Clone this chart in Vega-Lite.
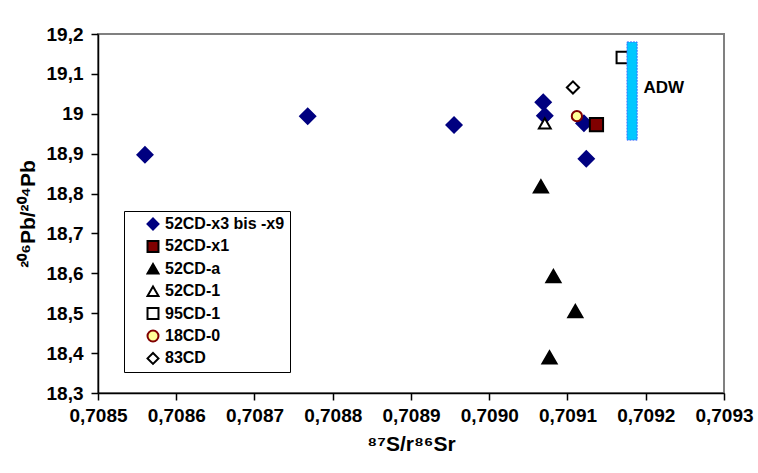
{
  "$schema": "https://vega.github.io/schema/vega-lite/v6.json",
  "width": 626,
  "height": 359,
  "autosize": "none",
  "padding": {"left": 98, "top": 34, "right": 34, "bottom": 80},
  "background": "white",
  "config": {
    "locale": {"number": {"decimal": ",", "thousands": ".", "grouping": [3], "currency": ["", " €"]}},
    "font": "Liberation Sans",
    "view": {"stroke": "#808080", "strokeWidth": 2},
    "axis": {
      "grid": false,
      "domainColor": "black", "domainWidth": 1.5,
      "tickColor": "black", "tickSize": 7, "tickWidth": 1.5,
      "labelFont": "Liberation Sans", "labelFontWeight": "bold", "labelFontSize": 19, "labelColor": "black",
      "labelFlush": false, "labelBound": false,
      "titleFont": "Liberation Sans", "titleFontWeight": "bold", "titleFontSize": 21, "titleColor": "black",
      "titlePadding": 8
    },
    "axisX": {"labelPadding": 6},
    "axisY": {"labelPadding": 8},
    "legend": {
      "strokeColor": "black", "fillColor": "white", "padding": 5,
      "labelFont": "Liberation Sans", "labelFontWeight": "bold", "labelFontSize": 16, "labelColor": "black",
      "labelLimit": 300,
      "symbolSize": 120, "symbolStrokeWidth": 2, "symbolOffset": 16,
      "clipHeight": 16, "rowPadding": 6.4, "labelOffset": 4
    }
  },
  "datasets": {
    "pts": [
      {"sr": 0.708560, "pb": 18.897, "series": "52CD-x3 bis -x9"},
      {"sr": 0.708768, "pb": 18.994, "series": "52CD-x3 bis -x9"},
      {"sr": 0.708955, "pb": 18.972, "series": "52CD-x3 bis -x9"},
      {"sr": 0.709069, "pb": 19.029, "series": "52CD-x3 bis -x9"},
      {"sr": 0.709071, "pb": 18.995, "series": "52CD-x3 bis -x9"},
      {"sr": 0.709121, "pb": 18.976, "series": "52CD-x3 bis -x9"},
      {"sr": 0.709124, "pb": 18.887, "series": "52CD-x3 bis -x9"},
      {"sr": 0.709137, "pb": 18.973, "series": "52CD-x1"},
      {"sr": 0.709066, "pb": 18.818, "series": "52CD-a"},
      {"sr": 0.709082, "pb": 18.593, "series": "52CD-a"},
      {"sr": 0.709110, "pb": 18.505, "series": "52CD-a"},
      {"sr": 0.709077, "pb": 18.389, "series": "52CD-a"},
      {"sr": 0.709071, "pb": 18.976, "series": "52CD-1"},
      {"sr": 0.709170, "pb": 19.141, "series": "95CD-1"},
      {"sr": 0.709112, "pb": 18.994, "series": "18CD-0"},
      {"sr": 0.709107, "pb": 19.066, "series": "83CD"}
    ],
    "adw": [
      {"x1": 0.709176, "x2": 0.709189, "y1": 18.934, "y2": 19.18, "label": "ADW", "tx": 0.709197, "ty": 19.065}
    ]
  },
  "layer": [
    {
      "data": {"name": "pts"},
      "mark": {"type": "point", "filled": true, "strokeWidth": 2, "opacity": 1},
      "encoding": {
        "x": {
          "field": "sr", "type": "quantitative",
          "scale": {"domain": [0.7085, 0.7093], "nice": false, "zero": false},
          "axis": {
            "values": [0.7085, 0.7086, 0.7087, 0.7088, 0.7089, 0.709, 0.7091, 0.7092, 0.7093],
            "format": ".4f", "title": "⁸⁷S/r⁸⁶Sr", "labelOverlap": false
          }
        },
        "y": {
          "field": "pb", "type": "quantitative",
          "scale": {"domain": [18.3, 19.2], "nice": false, "zero": false},
          "axis": {
            "values": [18.3, 18.4, 18.5, 18.6, 18.7, 18.8, 18.9, 19.0, 19.1, 19.2],
            "format": ".1~f", "title": "²⁰⁶Pb/²⁰⁴Pb", "labelOverlap": false
          }
        },
        "shape": {
          "field": "series", "type": "nominal",
          "scale": {
            "domain": ["52CD-x3 bis -x9", "52CD-x1", "52CD-a", "52CD-1", "95CD-1", "18CD-0", "83CD"],
            "range": ["diamond", "square", "triangle-up", "triangle-up", "square", "circle", "diamond"]
          },
          "legend": {"title": null, "orient": "none", "legendX": 26, "legendY": 177,
            "labelExpr": "datum.label + '\u00a0\u00a0\u00a0\u00a0'"}
        },
        "fill": {
          "field": "series", "type": "nominal",
          "scale": {
            "domain": ["52CD-x3 bis -x9", "52CD-x1", "52CD-a", "52CD-1", "95CD-1", "18CD-0", "83CD"],
            "range": ["#000080", "#800000", "#000000", "#ffffff", "#ffffff", "#ffff99", "#ffffff"]
          }
        },
        "stroke": {
          "field": "series", "type": "nominal",
          "scale": {
            "domain": ["52CD-x3 bis -x9", "52CD-x1", "52CD-a", "52CD-1", "95CD-1", "18CD-0", "83CD"],
            "range": ["#000080", "#000000", "#000000", "#000000", "#000000", "#800000", "#000000"]
          }
        },
        "size": {
          "field": "series", "type": "nominal",
          "scale": {
            "type": "ordinal",
            "domain": ["83CD", "18CD-0", "95CD-1", "52CD-1", "52CD-a", "52CD-x1", "52CD-x3 bis -x9"],
            "range": [150, 105, 130, 140, 200, 175, 230]
          },
          "legend": null
        }
      }
    },
    {
      "data": {"name": "adw"},
      "mark": {"type": "rect", "fill": "#00c8ff", "stroke": "#3a6cff", "strokeWidth": 1, "strokeDash": [2, 1]},
      "encoding": {
        "x": {"field": "x1", "type": "quantitative",
          "axis": {
            "values": [0.7085, 0.7086, 0.7087, 0.7088, 0.7089, 0.709, 0.7091, 0.7092, 0.7093],
            "format": ".4f", "title": "⁸⁷S/r⁸⁶Sr", "labelOverlap": false
          }},
        "x2": {"field": "x2"},
        "y": {"field": "y1", "type": "quantitative",
          "axis": {
            "values": [18.3, 18.4, 18.5, 18.6, 18.7, 18.8, 18.9, 19.0, 19.1, 19.2],
            "format": ".1~f", "title": "²⁰⁶Pb/²⁰⁴Pb", "labelOverlap": false
          }},
        "y2": {"field": "y2"}
      }
    },
    {
      "data": {"name": "adw"},
      "mark": {"type": "text", "align": "left", "baseline": "middle", "font": "Liberation Sans", "fontWeight": "bold", "fontSize": 17, "color": "black"},
      "encoding": {
        "x": {"field": "tx", "type": "quantitative",
          "axis": {
            "values": [0.7085, 0.7086, 0.7087, 0.7088, 0.7089, 0.709, 0.7091, 0.7092, 0.7093],
            "format": ".4f", "title": "⁸⁷S/r⁸⁶Sr", "labelOverlap": false
          }},
        "y": {"field": "ty", "type": "quantitative",
          "axis": {
            "values": [18.3, 18.4, 18.5, 18.6, 18.7, 18.8, 18.9, 19.0, 19.1, 19.2],
            "format": ".1~f", "title": "²⁰⁶Pb/²⁰⁴Pb", "labelOverlap": false
          }},
        "text": {"field": "label"}
      }
    }
  ]
}
